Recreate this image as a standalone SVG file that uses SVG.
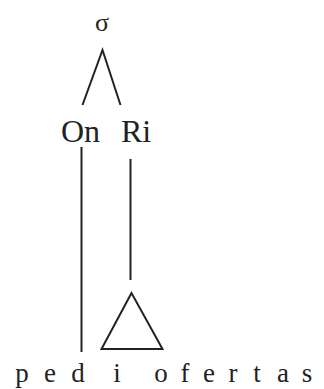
<svg xmlns="http://www.w3.org/2000/svg" width="324" height="389" viewBox="0 0 324 389">
<style>
.t{fill:#222;font-family:'Liberation Serif','Times New Roman',serif}
.ln{stroke:#222;stroke-width:2;fill:none;stroke-linecap:butt}
</style>
<rect width="324" height="389" fill="#fff"/>
<g id="sigma"><text class="t" x="102" y="31" font-size="26" text-anchor="middle">σ</text></g>
<g id="onset"><text class="t" x="61" y="142" font-size="32">On</text></g>
<g id="rime"><text class="t" x="121" y="142" font-size="32">Ri</text></g>
<g id="triangle"><polygon class="ln" points="131.5,293 101.5,349 162.5,349"/></g>
<g id="segments"><text class="t" y="382" font-size="27" text-anchor="middle" x="22 36 50 64 78 97 117 139 161 173 185 197 209 221 233 245 257 270 283 295 307">p e d i o f e r t a s</text></g>
<g id="connectors">
<polyline class="ln" points="82.5,105 102.5,50 120.5,105"/>
<line class="ln" x1="81.5" y1="147" x2="81.5" y2="352"/>
<line class="ln" x1="130.5" y1="159" x2="130.5" y2="280"/>
</g>
</svg>
